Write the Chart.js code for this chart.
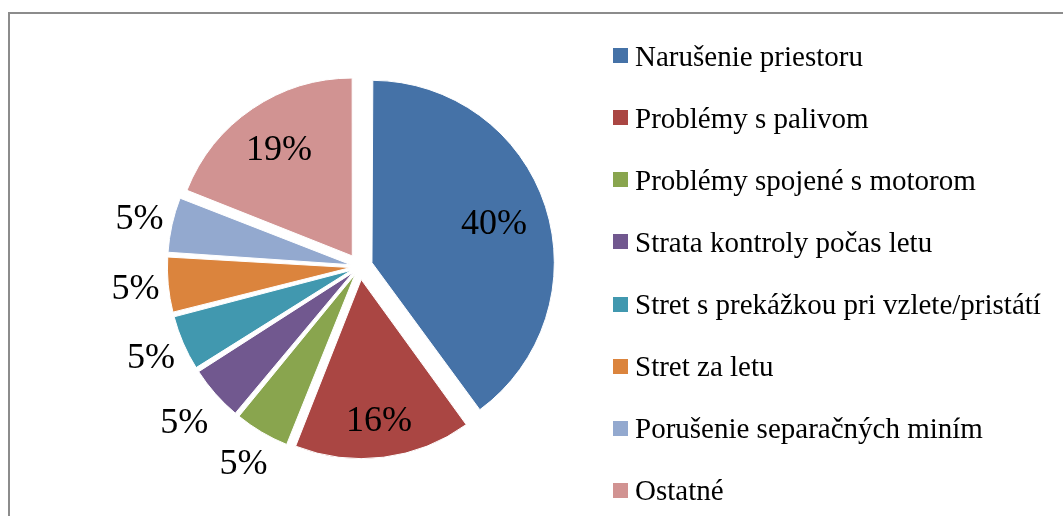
<!DOCTYPE html>
<html>
<head>
<meta charset="utf-8">
<script src="https://cdn.jsdelivr.net/npm/chart.js@4.4.1/dist/chart.umd.min.js"></script>
<style>
html, body { margin: 0; padding: 0; background: #fff; overflow: hidden; }
#frame { position: absolute; left: 8px; top: 12px; width: 1100px; height: 600px; border: 2px solid #8c8c8c; box-sizing: border-box; }
#wrap { position: absolute; left: 0; top: 0; width: 1063px; height: 516px; }
#legend { position: absolute; left: 613px; top: 0; font-family: "Liberation Serif", "Times New Roman", serif; font-size: 29px; color: #000; }
.item { position: absolute; left: 0; display: flex; align-items: center; white-space: nowrap; height: 30px; line-height: 30px; }
.box { width: 15px; height: 15px; margin-right: 7px; flex: none; }
</style>
</head>
<body>
<div id="frame"></div>
<div id="wrap"><canvas id="pie"></canvas></div>
<div id="legend"></div>
<script>
const categories = [
    'Narušenie priestoru',
    'Problémy s palivom',
    'Problémy spojené s motorom',
    'Strata kontroly počas letu',
    'Stret s prekážkou pri vzlete/pristátí',
    'Stret za letu',
    'Porušenie separačných miním',
    'Ostatné'
];
const shares = [40, 16, 5, 5, 5, 5, 5, 19];
const colors = ['#4572a7', '#aa4643', '#89a54e', '#71588f', '#4198af', '#db843d', '#93a9cf', '#d19392'];

// chart.js moves a slice by offset/4 and also grows it a bit, so thin slices get pulled less
const pullOut = shares.map(v => v >= 10 ? 13 : 9);

// legend (html, the chart.js one wraps into two columns at this spacing)
const legendEl = document.getElementById('legend');
categories.forEach((name, i) => {
    const item = document.createElement('div');
    item.className = 'item';
    item.style.top = (40.5 + i * 62.14) + 'px';
    const box = document.createElement('span');
    box.className = 'box';
    box.style.background = colors[i];
    const txt = document.createElement('span');
    txt.textContent = name;
    item.appendChild(box);
    item.appendChild(txt);
    legendEl.appendChild(item);
});

// percent labels: inside for big slices, outside for the 5% ones (like excel's best fit)
const pctLabels = {
    id: 'pctLabels',
    afterDatasetsDraw(chart) {
        const ctx = chart.ctx;
        const meta = chart.getDatasetMeta(0);
        ctx.save();
        ctx.font = '36px "Liberation Serif", "Times New Roman", serif';
        ctx.fillStyle = '#000';
        ctx.textAlign = 'center';
        ctx.textBaseline = 'middle';
        meta.data.forEach((arc, i) => {
            const { x, y, startAngle, endAngle, outerRadius } = arc.getProps(['x', 'y', 'startAngle', 'endAngle', 'outerRadius'], true);
            const mid = (startAngle + endAngle) / 2;
            const cx = Math.cos(mid), cy = Math.sin(mid);
            const rim = outerRadius + 15;
            let dist;
            if (shares[i] >= 10) {
                dist = rim - 11.5 - (34 * Math.abs(cx) + 22 * Math.abs(cy));
            } else {
                dist = rim + 7 + Math.min(26 / Math.abs(cx), 25 / Math.abs(cy));
            }
            // +2: 'middle' sits a little above the digits' visual centre
            ctx.fillText(shares[i] + '%', x + cx * dist, y + cy * dist + 2);
        });
        ctx.restore();
    }
};

new Chart(document.getElementById('pie'), {
    type: 'pie',
    data: {
        labels: categories,
        datasets: [{
            data: shares,
            backgroundColor: colors,
            borderColor: '#fff',
            borderWidth: 1,
            offset: pullOut.map(p => p * 4)
        }]
    },
    options: {
        responsive: true,
        maintainAspectRatio: false,
        animation: false,
        radius: 177,
        layout: { padding: { left: 0, right: 343.8, top: 17.4, bottom: 0 } },
        plugins: {
            legend: { display: false },
            tooltip: { enabled: false }
        }
    },
    plugins: [pctLabels]
});
</script>
</body>
</html>
